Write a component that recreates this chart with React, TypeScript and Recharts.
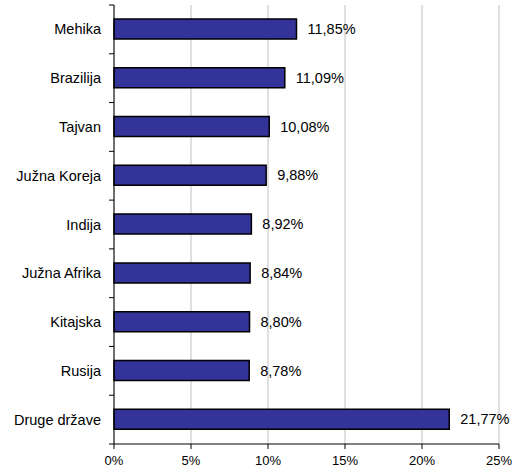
import { BarChart, Bar, XAxis, YAxis, CartesianGrid, LabelList } from 'recharts'

const countries = [
  'Mehika',
  'Brazilija',
  'Tajvan',
  'Južna Koreja',
  'Indija',
  'Južna Afrika',
  'Kitajska',
  'Rusija',
  'Druge države'
]
const shares = [11.85, 11.09, 10.08, 9.88, 8.92, 8.84, 8.8, 8.78, 21.77]
const xTicks = [0, 5, 10, 15, 20, 25]

const WIDTH = 515
const HEIGHT = 470
const MARGIN = { top: 5, right: 16, left: 0, bottom: 0 }
const Y_AXIS_W = 114
const X_AXIS_H = 26
const FONT = '"Liberation Sans", Arial, sans-serif'

const data = countries.map((name, i) => ({ name, value: shares[i] }))
const band = (HEIGHT - MARGIN.top - MARGIN.bottom - X_AXIS_H) / countries.length

const fmtPct = (v: number) => v.toFixed(2).replace('.', ',') + '%'

// category ticks sit between bars, like the original spreadsheet chart
const YTick = ({ x, y, payload, index }: any) => {
  const ax = MARGIN.left + Y_AXIS_W
  return (
    <g>
      <text x={x} y={y} dy='0.35em' textAnchor='end' fontSize={14.5} fontFamily={FONT} fill='#000'>
        {payload.value}
      </text>
      <line x1={ax - 5} x2={ax} y1={y - band / 2} y2={y - band / 2} stroke='#000' />
      {index === countries.length - 1 && (
        <line x1={ax - 5} x2={ax} y1={y + band / 2} y2={y + band / 2} stroke='#000' />
      )}
    </g>
  )
}

export default function App() {
  return (
    <div style={{ position: 'absolute', left: 0, top: 0, background: '#fff' }}>
      <BarChart width={WIDTH} height={HEIGHT} data={data} layout='vertical' margin={MARGIN}>
        <CartesianGrid horizontal={false} stroke='#c0c0c0' />
        <XAxis
          type='number'
          domain={[0, 25]}
          ticks={xTicks}
          tickFormatter={(v: number) => `${v}%`}
          height={X_AXIS_H}
          tickSize={5}
          tickMargin={7}
          stroke='#000'
          tick={{ fontSize: 13, fontFamily: FONT, fill: '#000' }}
          interval={0}
        />
        <YAxis
          type='category'
          dataKey='name'
          width={Y_AXIS_W}
          tickLine={false}
          tickSize={5}
          tickMargin={8}
          stroke='#000'
          tick={<YTick />}
          interval={0}
        />
        <Bar dataKey='value' fill='#333399' stroke='#000' strokeWidth={1.5} barSize={20} isAnimationActive={false}>
          <LabelList
            dataKey='value'
            position='right'
            offset={11}
            formatter={(v: any) => fmtPct(Number(v))}
            style={{ fontSize: 14.5, fontFamily: FONT, fill: '#000' }}
          />
        </Bar>
      </BarChart>
    </div>
  )
}
